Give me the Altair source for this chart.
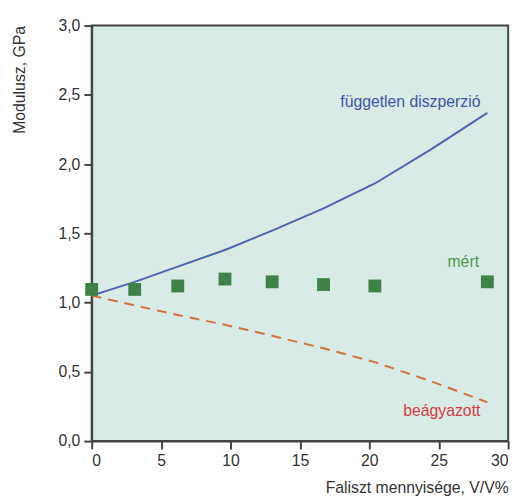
import altair as alt
import pandas as pd

# measured points
x_meas = [0, 3.1, 6.2, 9.6, 13.0, 16.7, 20.4, 28.5]
y_meas = [1.095, 1.095, 1.12, 1.17, 1.15, 1.13, 1.12, 1.15]

# model curves
x_model = [0, 3.1, 6.2, 9.6, 13.0, 16.7, 20.4, 24.5, 28.5]
y_indep = [1.05, 1.15, 1.26, 1.38, 1.52, 1.68, 1.86, 2.11, 2.37]
y_embed = [1.05, 0.98, 0.91, 0.84, 0.76, 0.67, 0.57, 0.43, 0.28]

label_text = ["független diszperzió", "mért", "beágyazott"]
label_x = [28.0, 27.9, 28.0]
label_y = [2.445, 1.29, 0.22]
label_color = ["#3d55a5", "#4a9a4a", "#d63a3a"]

FONT = "Liberation Sans"

meas = pd.DataFrame({"x": x_meas, "y": y_meas})
model = pd.DataFrame({"x": x_model, "indep": y_indep, "embed": y_embed})
labels = pd.DataFrame({"x": label_x, "y": label_y, "t": label_text, "c": label_color})

xs = alt.Scale(domain=[0, 30], nice=False)
ys = alt.Scale(domain=[0, 3], nice=False)

xaxis = alt.Axis(values=[0, 5, 10, 15, 20, 25, 30], title="Faliszt mennyisége, V/V%",
                 grid=False, titleX=423, titleY=52, titleAlign="right",
                 titleBaseline="alphabetic", titleFontWeight="normal")
yaxis = alt.Axis(values=[0, 0.5, 1, 1.5, 2, 2.5, 3], format=".1f", title="Modulusz, GPa",
                 grid=False, titleX=-73, titleY=0, titleAngle=-90, titleAlign="right",
                 titleBaseline="middle", titleFontWeight="normal")

base_x = alt.X("x:Q", scale=xs, axis=xaxis)

indep = alt.Chart(model).mark_line(color="#4a64b0", strokeWidth=2).encode(
    x=base_x, y=alt.Y("indep:Q", scale=ys, axis=yaxis))
embed = alt.Chart(model).mark_line(color="#d4703f", strokeWidth=2, strokeDash=[10, 7]).encode(
    x=alt.X("x:Q", scale=xs), y=alt.Y("embed:Q", scale=ys))
pts = alt.Chart(meas).mark_point(shape="square", filled=True, size=170, color="#3d8247", opacity=1).encode(
    x=alt.X("x:Q", scale=xs), y=alt.Y("y:Q", scale=ys))
txt = alt.Chart(labels).mark_text(align="right", baseline="middle", font=FONT, fontSize=16).encode(
    x=alt.X("x:Q", scale=xs), y=alt.Y("y:Q", scale=ys), text="t:N",
    color=alt.Color("c:N", scale=None))

chart = alt.layer(indep, embed, pts, txt).properties(
    width=423, height=422,
    padding={"left": 85, "top": 14, "right": 10, "bottom": 58},
    autosize=alt.AutoSizeParams(type="none"),
).configure(
    locale={"number": {"decimal": ",", "thousands": " ", "grouping": [3], "currency": ["", " Ft"]}}
).configure_view(
    fill="#d9ebe6", stroke="#444444", strokeWidth=2
).configure_axis(
    labelFont=FONT, titleFont=FONT, labelFontSize=16, titleFontSize=16,
    labelColor="#333333", titleColor="#333333", domainColor="#444444", domainWidth=2,
    tickColor="#444444", tickWidth=2, tickSize=8, labelPadding=4,
)

chart.save("out.html", embed_options={"renderer": "svg", "actions": False})
